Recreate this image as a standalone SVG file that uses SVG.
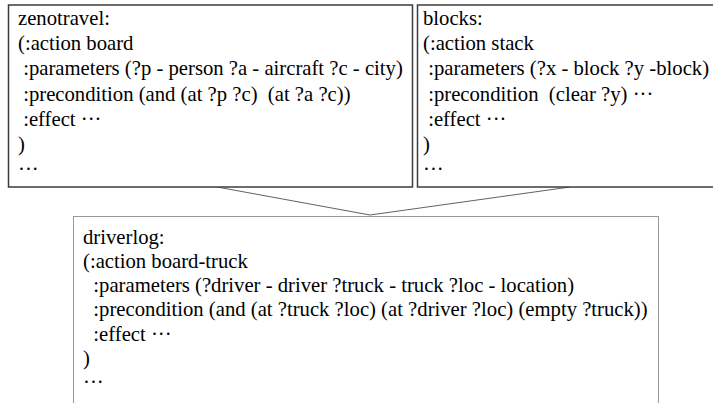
<svg xmlns="http://www.w3.org/2000/svg" width="713" height="403" viewBox="0 0 713 403">
<style>
.t{font-family:"Liberation Serif","Times New Roman",serif;font-size:20.7px;fill:#000;white-space:pre}
.b1{fill:#fff;stroke:#3c3c3c;stroke-width:1.5}
.b2{fill:#fff;stroke:#9a9a9a;stroke-width:1}
.c{fill:none;stroke:#505050;stroke-width:0.9}
</style>
<rect width="713" height="403" fill="#fff"/>
<g id="connectors">
<line class="c" x1="217" y1="187" x2="370" y2="215"/>
<line class="c" x1="570" y1="187" x2="370" y2="215"/>
</g>
<g id="zenotravel">
<rect class="b1" x="8.5" y="5" width="404" height="182"/>
<text class="t" x="18" y="25">zenotravel:</text>
<text class="t" x="18" y="50.2">(:action board</text>
<text class="t" x="18" y="75.4"> :parameters (?p - person ?a - aircraft ?c - city)</text>
<text class="t" x="18" y="100.6"> :precondition (and (at ?p ?c)  (at ?a ?c))</text>
<text class="t" x="18" y="125.8"> :effect ···</text>
<text class="t" x="18" y="151">)</text>
<text class="t" x="18" y="176.2">···</text>
</g>
<g id="blocks">
<rect class="b1" x="417.5" y="5" width="310" height="182"/>
<text class="t" x="423" y="25">blocks:</text>
<text class="t" x="423" y="50.2">(:action stack</text>
<text class="t" x="423" y="75.4"> :parameters (?x - block ?y -block)</text>
<text class="t" x="423" y="100.6"> :precondition  (clear ?y) ···</text>
<text class="t" x="423" y="125.8"> :effect ···</text>
<text class="t" x="423" y="151">)</text>
<text class="t" x="423" y="176.2">···</text>
</g>
<g id="driverlog">
<rect class="b2" x="73.5" y="216.5" width="585" height="200"/>
<text class="t" x="83" y="243.5">driverlog:</text>
<text class="t" x="83" y="267.8">(:action board-truck</text>
<text class="t" x="83" y="292.1">  :parameters (?driver - driver ?truck - truck ?loc - location)</text>
<text class="t" x="83" y="316.4">  :precondition (and (at ?truck ?loc) (at ?driver ?loc) (empty ?truck))</text>
<text class="t" x="83" y="340.7">  :effect ···</text>
<text class="t" x="83" y="365">)</text>
<text class="t" x="83" y="389.3">···</text>
</g>
</svg>
